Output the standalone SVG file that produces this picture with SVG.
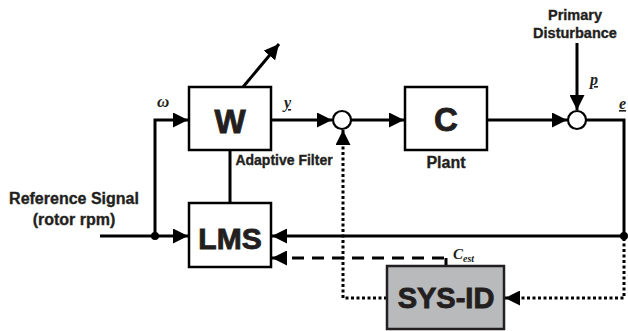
<svg xmlns="http://www.w3.org/2000/svg" width="628" height="331" viewBox="0 0 628 331">
<style>
.box{fill:#fff;stroke:#000;stroke-width:2.5}
.sys{fill:#b9babc;stroke:#231f20;stroke-width:2.5}
.big{font-family:"Liberation Sans",Arial,sans-serif;font-weight:bold;fill:#231f20;stroke:#231f20;stroke-width:0.9;text-anchor:middle}
.lbl{font-family:"Liberation Sans",Arial,sans-serif;font-weight:bold;fill:#231f20;stroke:#231f20;stroke-width:0.35;text-anchor:middle}
.var{font-family:"Liberation Serif","Times New Roman",serif;font-style:italic;font-weight:bold;fill:#231f20}
.ln{fill:none;stroke:#000;stroke-width:3}
.dot{fill:none;stroke:#000;stroke-width:3;stroke-dasharray:3 2.5}
.dash{fill:none;stroke:#000;stroke-width:3;stroke-dasharray:12 8}
.sum{fill:#fff;stroke:#000;stroke-width:2.2}
</style>
<defs>
<marker id="ah" viewBox="0 0 10 10" refX="10" refY="5" markerWidth="5" markerHeight="5" markerUnits="strokeWidth" orient="auto">
<path d="M0,0 L10,5 L0,10 Z" fill="#000"/>
</marker>
</defs>
<g id="connectors">
<line class="ln" x1="100" y1="236" x2="188" y2="236" marker-end="url(#ah)"/>
<polyline class="ln" points="155,236 155,120 188,120" marker-end="url(#ah)"/>
<circle cx="155" cy="236" r="4" fill="#000"/>
<line class="ln" x1="243" y1="87" x2="279" y2="44" marker-end="url(#ah)"/>
<line class="ln" x1="271" y1="120" x2="332" y2="120" marker-end="url(#ah)"/>
<line class="ln" x1="351" y1="120" x2="404" y2="120" marker-end="url(#ah)"/>
<line class="ln" x1="487" y1="120" x2="567" y2="120" marker-end="url(#ah)"/>
<line class="ln" x1="577" y1="43" x2="577" y2="110" marker-end="url(#ah)"/>
<polyline class="ln" points="586,120 624,120 624,236 272,236" marker-end="url(#ah)"/>
<circle cx="624" cy="236" r="4" fill="#000"/>
<line class="ln" x1="230" y1="150" x2="230" y2="203"/>
<polyline class="ln" points="446,266 446,258"/>
<line class="dash" x1="444" y1="258" x2="272" y2="258" marker-end="url(#ah)"/>
<polyline class="dot" points="624,238 624,298 505,298" marker-end="url(#ah)"/>
<polyline class="dot" points="387,298 343,298 343,130" marker-end="url(#ah)"/>
</g>
<g id="sum1"><circle class="sum" cx="342" cy="120" r="9"/></g>
<g id="sum2"><circle class="sum" cx="577" cy="120" r="9"/></g>
<g id="W">
<rect class="box" x="189" y="87" width="82" height="63"/>
<text class="big" x="230" y="133" font-size="33">W</text>
</g>
<g id="C">
<rect class="box" x="405" y="87" width="82" height="63"/>
<text class="big" x="446" y="131" font-size="33">C</text>
</g>
<g id="LMS">
<rect class="box" x="189" y="203" width="82" height="64"/>
<text class="big" x="230" y="249" font-size="30">LMS</text>
</g>
<g id="SYSID">
<rect class="sys" x="387" y="266" width="117" height="63"/>
<text class="big" x="446" y="308" font-size="29">SYS-ID</text>
</g>
<g id="labels">
<text class="lbl" x="74" y="204" font-size="16">Reference Signal</text>
<text class="lbl" x="74" y="225" font-size="16">(rotor rpm)</text>
<text class="lbl" x="284" y="165" font-size="14">Adaptive Filter</text>
<text class="lbl" x="446" y="168" font-size="16">Plant</text>
<text class="lbl" x="575" y="20" font-size="14.5">Primary</text>
<text class="lbl" x="575" y="38" font-size="14.5">Disturbance</text>
<text class="var" x="157" y="107" font-size="17">ω</text>
<text class="var" x="284" y="108" font-size="16" text-decoration="underline">y</text>
<text class="var" x="590" y="85" font-size="16" text-decoration="underline">p</text>
<text class="var" x="619" y="109" font-size="16" text-decoration="underline">e</text>
<text class="var" x="453" y="259" font-size="15">C<tspan font-size="10" dy="3">est</tspan></text>
</g>
</svg>
